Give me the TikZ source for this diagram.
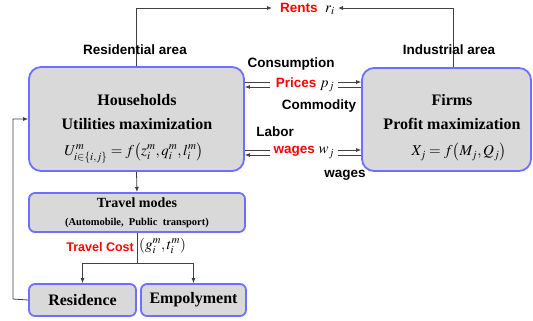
\documentclass[tikz,border=0pt]{standalone}
\usepackage{mathptmx}
\usepackage{fontspec}
\setmainfont{Liberation Serif}
\newfontfamily\labfont{Liberation Sans}
\usetikzlibrary{arrows.meta}
\definecolor{boxedge}{RGB}{110,110,255}
\definecolor{boxfill}{RGB}{217,217,217}
\definecolor{wire}{RGB}{64,64,64}
\begin{document}
\begin{tikzpicture}[x=1pt,y=-1pt,
  agent/.style={draw=boxedge,fill=boxfill,line width=1.8pt,rounded corners=12pt,inner sep=0pt},
  smallbox/.style={draw=boxedge,fill=boxfill,line width=1.8pt,rounded corners=6pt,
    inner sep=0pt,align=center,font=\fontsize{16}{18}\selectfont\bfseries},
  title/.style={inner sep=0pt,font=\fontsize{16}{18}\selectfont\bfseries},
  eq/.style={inner sep=0pt,font=\fontsize{15}{17}\selectfont},
  lab/.style={font=\labfont\fontsize{13.5}{15}\selectfont\bfseries,inner sep=0pt},
  redlab/.style={lab,text=red},
  wire/.style={draw=wire,line width=0.8pt},
  flow/.style={wire,-{Latex[length=5pt,width=4pt]}}]
\useasboundingbox (0,0) rectangle (533,321);

% households
\node[agent,minimum width=215pt,minimum height=104pt] (hh) at (136.5,119) {};
\node[title] (hh1) at (137,100) {Households};
\node[title] (hh2) at (137,124) {Utilities maximization};
\node[eq] (hh3) at (134,153) {$U^{m}_{i\in\{i,j\}}=f\bigl(z^{m}_{i},q^{m}_{i},l^{m}_{i}\bigr)$};

% firms
\node[agent,minimum width=169pt,minimum height=103pt] (fm) at (446.5,119.5) {};
\node[title] (fm1) at (452,100) {Firms};
\node[title] (fm2) at (452,124) {Profit maximization};
\node[eq] (fm3) at (459,152) {$X_{j}=f\bigl(M_{j},Q_{j}\bigr)$};

% travel and locations
\node[smallbox,minimum width=216pt,minimum height=39pt] (tm) at (137,212.5)
  {\fontsize{14}{14}\selectfont Travel modes\\[0pt]
   \fontsize{10.5}{11}\selectfont (Automobile,\ \ Public\ \ transport)};
\node[smallbox,minimum width=107pt,minimum height=32pt] (res) at (82.5,300) {Residence};
\node[smallbox,minimum width=105pt,minimum height=32pt] (emp) at (193.5,300) {Empolyment};

% rents loop
\coordinate (rl) at (272,8);
\coordinate (rr) at (338,8);
\node[lab,anchor=west] (rents) at (280,9) {\textcolor{red}{Rents}\ \ \normalfont\fontsize{15}{17}\selectfont$r_{i}$};
\draw[flow] (hh.north) |- (rl);
\draw[flow] (fm.north -| 453,0) |- (rr);
\node[lab] (resarea) at (135,50) {Residential\ area};
\node[lab] (indarea) at (449,50) {Industrial\ area};

% goods market
\coordinate (pL1) at (270,82);  \coordinate (pR1) at (338,82);
\coordinate (pL2) at (270,87);  \coordinate (pR2) at (338,87);
\draw[wire] (hh.east |- pL1) -- (pL1);
\draw[flow] (pR1) -- (fm.west |- pR1);
\draw[wire] (fm.west |- pR2) -- (pR2);
\draw[flow] (pL2) -- (hh.east |- pL2);
\node[lab] (prices) at (305,84.5) {\textcolor{red}{Prices}\ \normalfont\fontsize{15}{17}\selectfont$p_{j}$};
\node[lab] (cons) at (291,64) {Consumption};
\node[lab] (comm) at (319,106) {Commodity};

% labour market
\coordinate (wL1) at (270,150);  \coordinate (wR1) at (338,150);
\coordinate (wL2) at (270,155);  \coordinate (wR2) at (338,155);
\draw[wire] (hh.east |- wL1) -- (wL1);
\draw[flow] (wR1) -- (fm.west |- wR1);
\draw[wire] (fm.west |- wR2) -- (wR2);
\draw[flow] (wL2) -- (hh.east |- wL2);
\node[lab] (wages) at (304,152.5) {\textcolor{red}{wages}\ \normalfont\fontsize{15}{17}\selectfont$w_{j}$};
\node[lab] (labor) at (275,132) {Labor};
\node[lab] (wages2) at (345,175) {wages};

% household to travel modes to locations
\draw[flow] (hh.south) -- (tm.north);
\coordinate (split) at (137,263);
\draw[wire] (tm.south) -- (split);
\draw[flow] (split) -| (res.north);
\draw[flow] (split) -| (emp.north);
\node[redlab,anchor=east,font=\labfont\fontsize{12.5}{14}\selectfont\bfseries] (tc) at (134,247) {Travel\ Cost};
\node[eq,anchor=west] (tcm) at (139,246) {$(g^{m}_{i},t^{m}_{i})$};

% feedback from residence
\coordinate (fb) at (13,299);
\draw[flow] (res.west) -- (fb) |- (hh.west);
\end{tikzpicture}
\end{document}
